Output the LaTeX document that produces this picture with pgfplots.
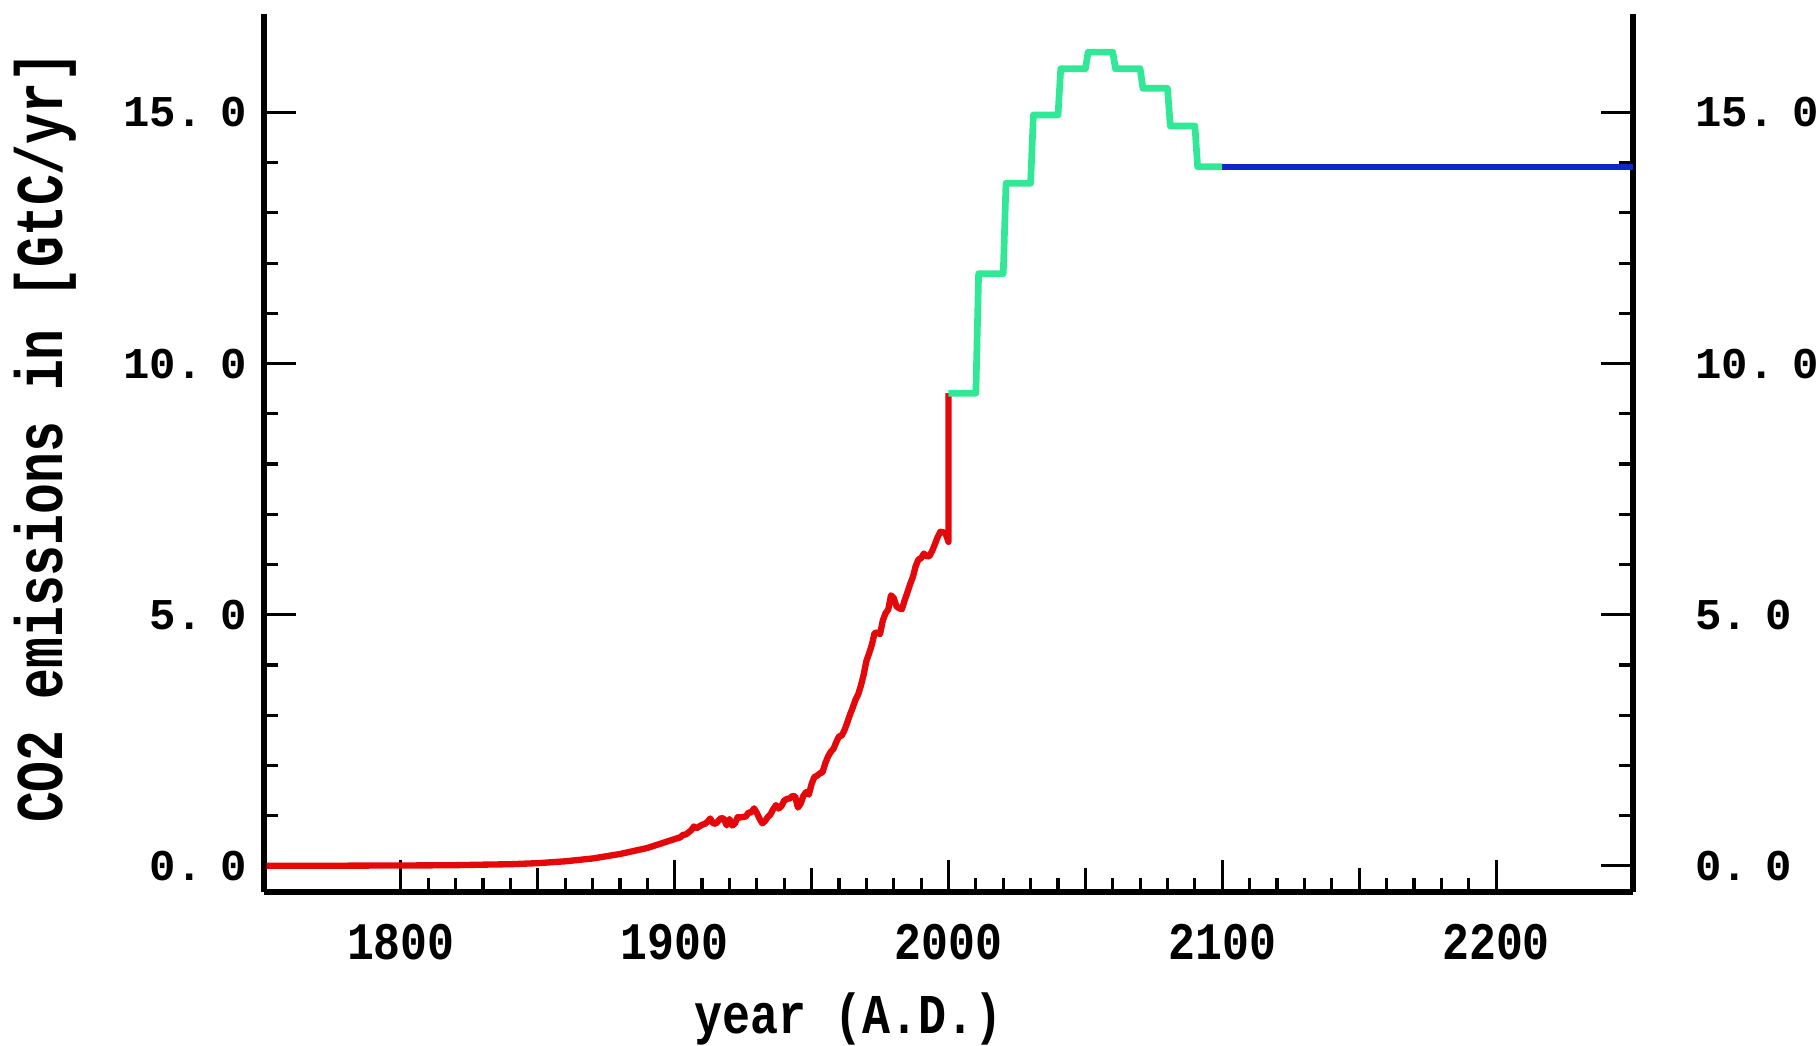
\documentclass[border=0pt]{standalone}
\usepackage{fontspec}
\setmainfont{Liberation Mono}
\usepackage{pgfplots}
\pgfplotsset{compat=1.18}
\definecolor{histred}{RGB}{228,8,10}
\definecolor{scengreen}{RGB}{48,232,150}
\definecolor{stabblue}{RGB}{12,40,205}
\newcommand{\yl}[2]{#1.\hspace{0.4em}#2}

\begin{document}
\begin{tikzpicture}
\begin{axis}[
  at={(0,0)}, anchor=south west,
  scale only axis, width=13.69cm, height=8.78cm,
  xmin=1750, xmax=2250, ymin=-0.52, ymax=16.96,
  axis x line*=bottom,
  axis line style={line width=1.5pt},
  tick style={black, line width=0.9pt},
  tick align=inside,
  major tick length=0.32cm, minor tick length=0.14cm,
  xtick={1800,1900,2000,2100,2200},
  xticklabels={\scalebox{0.85}[1]{1800},\scalebox{0.85}[1]{1900},\scalebox{0.85}[1]{2000},\scalebox{0.85}[1]{2100},\scalebox{0.85}[1]{2200}},
  minor x tick num=9,
  extra x ticks={1850,1950,2050,2150},
  extra x tick labels={},
  extra x tick style={major tick length=0.24cm},
  ytick={0,5,10,15},
  yticklabels={\yl{0}{0},\yl{5}{0},\yl{10}{0},\yl{15}{0}},
  minor y tick num=4,
  xticklabel style={font=\fontsize{15}{17}\selectfont\bfseries, yshift=-0.2cm},
  yticklabel style={font=\fontsize{12.5}{14}\selectfont\bfseries, xshift=-0.05cm},
  xlabel={\scalebox{0.83}[1]{year (A.D.)}},
  xlabel style={at={(axis description cs:0.427,-0.145)}, anchor=center,
    font=\fontsize{16}{18}\selectfont\bfseries},
  ylabel={\scalebox{0.77}[1]{CO2 emissions in [GtC/yr]}},
  ylabel style={at={(axis description cs:-0.16,0.518)}, anchor=center,
    font=\fontsize{19}{22}\selectfont\bfseries},
]
% historical fossil emissions
\addplot[histred, line width=1.8pt, line join=round] coordinates {
(1751,0.003) (1760,0.003) (1770,0.003) (1780,0.004) (1790,0.006)
(1800,0.008) (1810,0.010) (1820,0.014) (1830,0.024) (1840,0.033)
(1850,0.054) (1860,0.091) (1870,0.147) (1880,0.236) (1890,0.356)
(1900,0.534) (1901,0.552) (1902,0.566) (1903,0.617) (1904,0.624)
(1905,0.663) (1906,0.707) (1907,0.784) (1908,0.750) (1909,0.785)
(1910,0.819) (1911,0.836) (1912,0.879) (1913,0.943) (1914,0.850)
(1915,0.838) (1916,0.901) (1917,0.955) (1918,0.936) (1919,0.806)
(1920,0.932) (1921,0.803) (1922,0.845) (1923,0.970) (1924,0.963)
(1925,0.975) (1926,0.983) (1927,1.062) (1928,1.065) (1929,1.145)
(1930,1.053) (1931,0.940) (1932,0.847) (1933,0.893) (1934,0.973)
(1935,1.027) (1936,1.130) (1937,1.209) (1938,1.142) (1939,1.192)
(1940,1.299) (1941,1.334) (1942,1.342) (1943,1.391) (1944,1.383)
(1945,1.160) (1946,1.238) (1947,1.392) (1948,1.469) (1949,1.419)
(1950,1.630) (1951,1.767) (1952,1.795) (1953,1.841) (1954,1.865)
(1955,2.043) (1956,2.177) (1957,2.270) (1958,2.330) (1959,2.462)
(1960,2.577) (1961,2.594) (1962,2.700) (1963,2.848) (1964,3.008)
(1965,3.145) (1966,3.305) (1967,3.411) (1968,3.588) (1969,3.800)
(1970,4.076) (1971,4.231) (1972,4.399) (1973,4.635) (1974,4.644)
(1975,4.615) (1976,4.883) (1977,5.029) (1978,5.105) (1979,5.387)
(1980,5.332) (1981,5.168) (1982,5.127) (1983,5.110) (1984,5.290)
(1985,5.444) (1986,5.610) (1987,5.753) (1988,5.965) (1989,6.097)
(1990,6.127) (1991,6.217) (1992,6.164) (1993,6.162) (1994,6.266)
(1995,6.398) (1996,6.542) (1997,6.651) (1998,6.643) (1999,6.610)
(2000,6.450) (2000,9.41)
};
% scenario, decadal steps
\addplot[scengreen, line width=1.9pt, line join=round] coordinates {
(2000,9.41) (2010,9.41) (2011,11.79) (2020,11.79) (2021,13.59)
(2030,13.59) (2031,14.95) (2040,14.95) (2041,15.87) (2050,15.87)
(2051,16.20) (2060,16.20) (2061,15.87) (2070,15.87) (2071,15.48)
(2080,15.48) (2081,14.73) (2090,14.73) (2091,13.92) (2100,13.92)
};
% constant emissions after 2100
\addplot[stabblue, line width=1.8pt] coordinates {
(2100,13.92) (2250,13.92)
};
\end{axis}
% tick labels of the right-hand axis
\begin{axis}[
  at={(0,0)}, anchor=south west,
  scale only axis, width=13.69cm, height=8.78cm,
  xmin=1750, xmax=2250, ymin=-0.52, ymax=16.96,
  hide x axis,
  axis y line*=right,
  y axis line style={draw=none},
  major tick length=0pt, minor y tick num=0,
  ytick={0,5,10,15},
  yticklabels={\yl{0}{0},\yl{5}{0},\yl{10}{0},\yl{15}{0}},
  yticklabel style={font=\fontsize{12.5}{14}\selectfont\bfseries, xshift=0.5cm},
]
\end{axis}
\pgfresetboundingbox
\useasboundingbox (-2.64,-1.54) rectangle (15.52,8.92);
\end{tikzpicture}
\end{document}
